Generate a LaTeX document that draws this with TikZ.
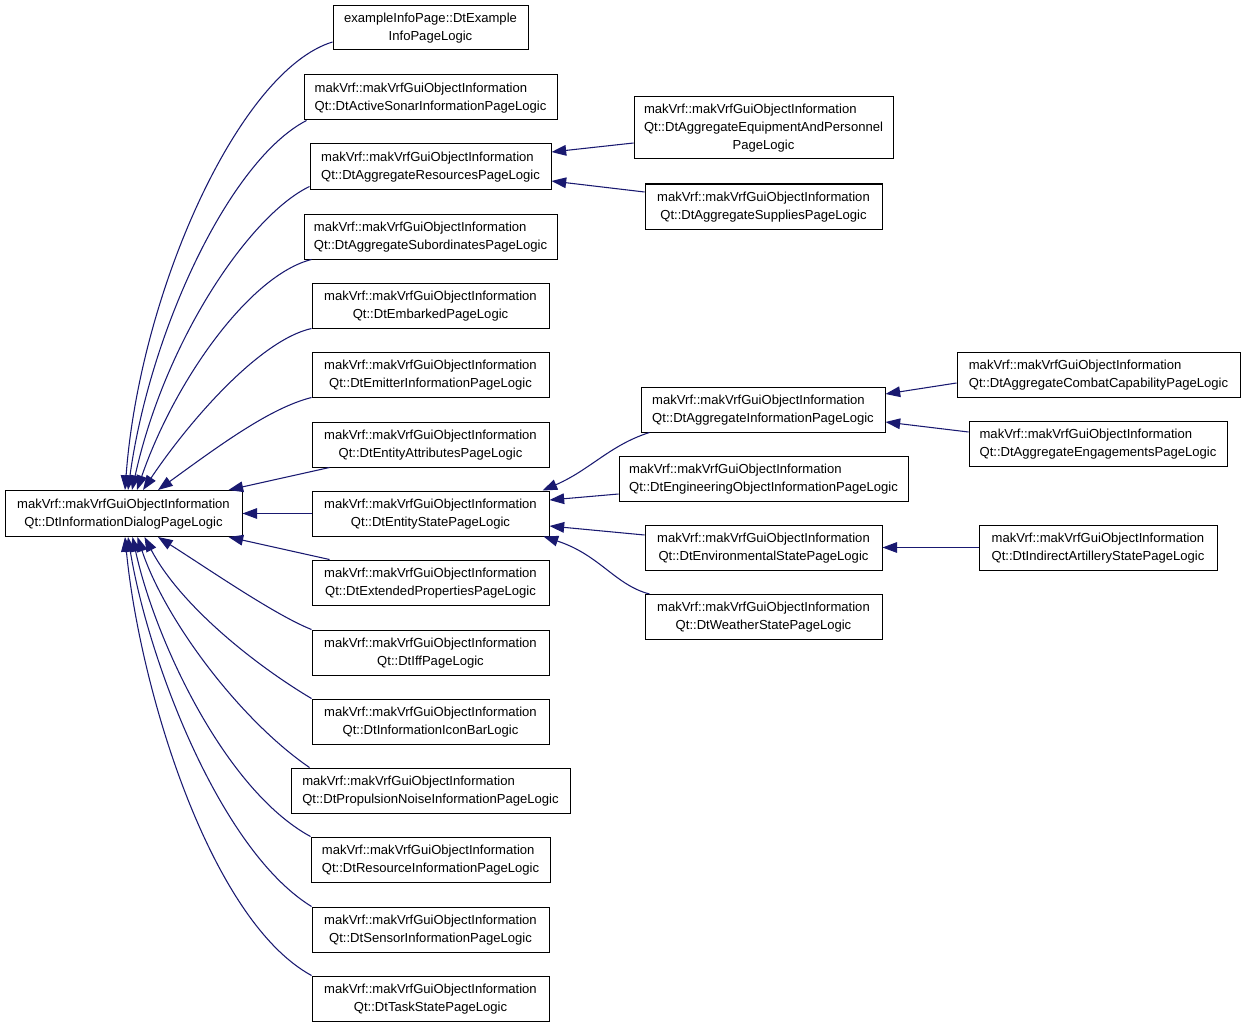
\documentclass[tikz,border=0pt]{standalone}
\usepackage{fontspec}
\setmainfont{Liberation Sans}
\usetikzlibrary{arrows.meta,calc}
\definecolor{navy}{HTML}{191970}
\newcommand{\boxlbl}[2]{\begin{tabular}{@{}l@{}}#1\\\multicolumn{1}{@{}c@{}}{#2}\end{tabular}}
\newcommand{\mk}{makVrf::makVrfGuiObjectInformation}
\begin{document}
\begin{tikzpicture}[x=0.75pt,y=-0.75pt,
  box/.style={draw=black,line width=0.75pt,fill=white,inner sep=0pt,
    minimum height=45*0.75pt,font=\fontsize{9.8}{13.5}\selectfont},
  bw/.style={minimum width=#1*0.75pt},
  inh/.style={draw=navy,line width=0.8pt,-{Triangle[length=11pt,width=8pt]}}]
\useasboundingbox (0,0) rectangle (1245,1027);
% left column
\node[box,bw=237,minimum height=46*0.75pt] (base) at (123.5,513.5) {\boxlbl{\mk}{Qt::DtInformationDialogPageLogic}};
\node[box,bw=195,minimum height=44*0.75pt] (ex) at (430.5,28) {\boxlbl{exampleInfoPage::DtExample}{InfoPageLogic}};
\node[box,bw=253] (sonar) at (430.5,97.5) {\boxlbl{\mk}{Qt::DtActiveSonarInformationPageLogic}};
\node[box,bw=241] (res) at (430.5,166.5) {\boxlbl{\mk}{Qt::DtAggregateResourcesPageLogic}};
\node[box,bw=253] (sub) at (430.5,236.5) {\boxlbl{\mk}{Qt::DtAggregateSubordinatesPageLogic}};
\node[box,bw=237] (emb) at (430.5,305.5) {\boxlbl{\mk}{Qt::DtEmbarkedPageLogic}};
\node[box,bw=237] (emit) at (430.5,374.5) {\boxlbl{\mk}{Qt::DtEmitterInformationPageLogic}};
\node[box,bw=237] (attr) at (430.5,444.5) {\boxlbl{\mk}{Qt::DtEntityAttributesPageLogic}};
\node[box,bw=237] (state) at (430.5,513.5) {\boxlbl{\mk}{Qt::DtEntityStatePageLogic}};
\node[box,bw=237] (ext) at (430.5,582.5) {\boxlbl{\mk}{Qt::DtExtendedPropertiesPageLogic}};
\node[box,bw=237] (iff) at (430.5,652.5) {\boxlbl{\mk}{Qt::DtIffPageLogic}};
\node[box,bw=237] (icon) at (430.5,721.5) {\boxlbl{\mk}{Qt::DtInformationIconBarLogic}};
\node[box,bw=279] (prop) at (430.5,790.5) {\boxlbl{\mk}{Qt::DtPropulsionNoiseInformationPageLogic}};
\node[box,bw=239] (rinfo) at (430.5,859.5) {\boxlbl{\mk}{Qt::DtResourceInformationPageLogic}};
\node[box,bw=237] (sensor) at (430.5,929.5) {\boxlbl{\mk}{Qt::DtSensorInformationPageLogic}};
\node[box,bw=237] (task) at (430.5,998.5) {\boxlbl{\mk}{Qt::DtTaskStatePageLogic}};
% middle column
\node[box,bw=259,minimum height=62*0.75pt] (equip) at (763.5,128) {\begin{tabular}{@{}l@{}}\mk\\Qt::DtAggregateEquipmentAndPersonnel\\\multicolumn{1}{@{}c@{}}{PageLogic}\end{tabular}};
\node[box,bw=237] (supp) at (763.5,206.5) {\boxlbl{\mk}{Qt::DtAggregateSuppliesPageLogic}};
\node[box,bw=244] (agg) at (763,409.5) {\boxlbl{\mk}{Qt::DtAggregateInformationPageLogic}};
\node[box,bw=289] (eng) at (763.5,478.5) {\boxlbl{\mk}{Qt::DtEngineeringObjectInformationPageLogic}};
\node[box,bw=237] (env) at (763.5,547.5) {\boxlbl{\mk}{Qt::DtEnvironmentalStatePageLogic}};
\node[box,bw=237] (weather) at (763.5,617) {\boxlbl{\mk}{Qt::DtWeatherStatePageLogic}};
% right column
\node[box,bw=283] (combat) at (1098.5,374.5) {\boxlbl{\mk}{Qt::DtAggregateCombatCapabilityPageLogic}};
\node[box,bw=258] (engage) at (1098,443.5) {\boxlbl{\mk}{Qt::DtAggregateEngagementsPageLogic}};
\node[box,bw=238] (indirect) at (1098,547.5) {\boxlbl{\mk}{Qt::DtIndirectArtilleryStatePageLogic}};
% upper edges to base
\draw[inh] ($(ex.west)+(0,14)$) .. controls (240,70) and (140,290) .. ($(base.north)+(1.5,0)$);
\draw[inh] ($(sonar.south west)+(3,0)$) .. controls (230,160) and (150,330) .. ($(base.north)+(4.5,0)$);
\draw[inh] ($(res.south west)+(0,-3)$) .. controls (250,215) and (165,340) .. ($(base.north)+(8.5,0)$);
\draw[inh] ($(sub.south west)+(8,0)$) .. controls (250,275) and (175,380) .. ($(base.north)+(13.5,0)$);
\draw[inh] (emb.south west) .. controls (260,340) and (190,420) .. ($(base.north)+(19.5,0)$);
\draw[inh] (emit.south west) .. controls (270,408) and (220,445) .. ($(base.north)+(34.5,0)$);
\draw[inh] ($(attr.south west)+(18,0)$) -- ($(base.north east)+(-14,0)$);
\draw[inh] (state.west) -- (base.east);
\draw[inh] ($(ext.north west)+(18,0)$) -- ($(base.south east)+(-14,0)$);
% lower edges to base
\draw[inh] (iff.north west) .. controls (275,615) and (210,570) .. ($(base.south)+(34.5,0)$);
\draw[inh] (icon.north west) .. controls (255,665) and (180,605) .. ($(base.south)+(21,0)$);
\draw[inh] ($(prop.north west)+(19,0)$) .. controls (240,720) and (165,620) .. ($(base.south)+(14,0)$);
\draw[inh] (rinfo.north west) .. controls (225,790) and (155,640) .. ($(base.south)+(9,0)$);
\draw[inh] (sensor.north west) .. controls (220,850) and (148,660) .. ($(base.south)+(4.5,0)$);
\draw[inh] (task.north west) .. controls (210,920) and (140,690) .. ($(base.south)+(1.5,0)$);
% middle edges
\draw[inh] ($(equip.west)+(0,15)$) -- ($(res.east)+(0,-14.5)$);
\draw[inh] ($(supp.west)+(0,-14.5)$) -- ($(res.east)+(0,14.5)$);
\draw[inh] ($(agg.south west)+(9,0)$) .. controls (610,445) and (590,470) .. ($(state.north east)+(-7,0)$);
\draw[inh] ($(eng.west)+(0,15.5)$) -- ($(state.east)+(0,-13.5)$);
\draw[inh] ($(env.west)+(0,-12.5)$) -- ($(state.east)+(0,12.5)$);
\draw[inh] ($(weather.north west)+(5,0)$) .. controls (615,585) and (600,555) .. ($(state.south east)+(-6,0)$);
% right edges
\draw[inh] ($(combat.west)+(0,8.5)$) -- ($(agg.east)+(0,-15.5)$);
\draw[inh] ($(engage.west)+(0,-11.5)$) -- ($(agg.east)+(0,12.5)$);
\draw[inh] (indirect.west) -- (env.east);
\end{tikzpicture}
\end{document}
